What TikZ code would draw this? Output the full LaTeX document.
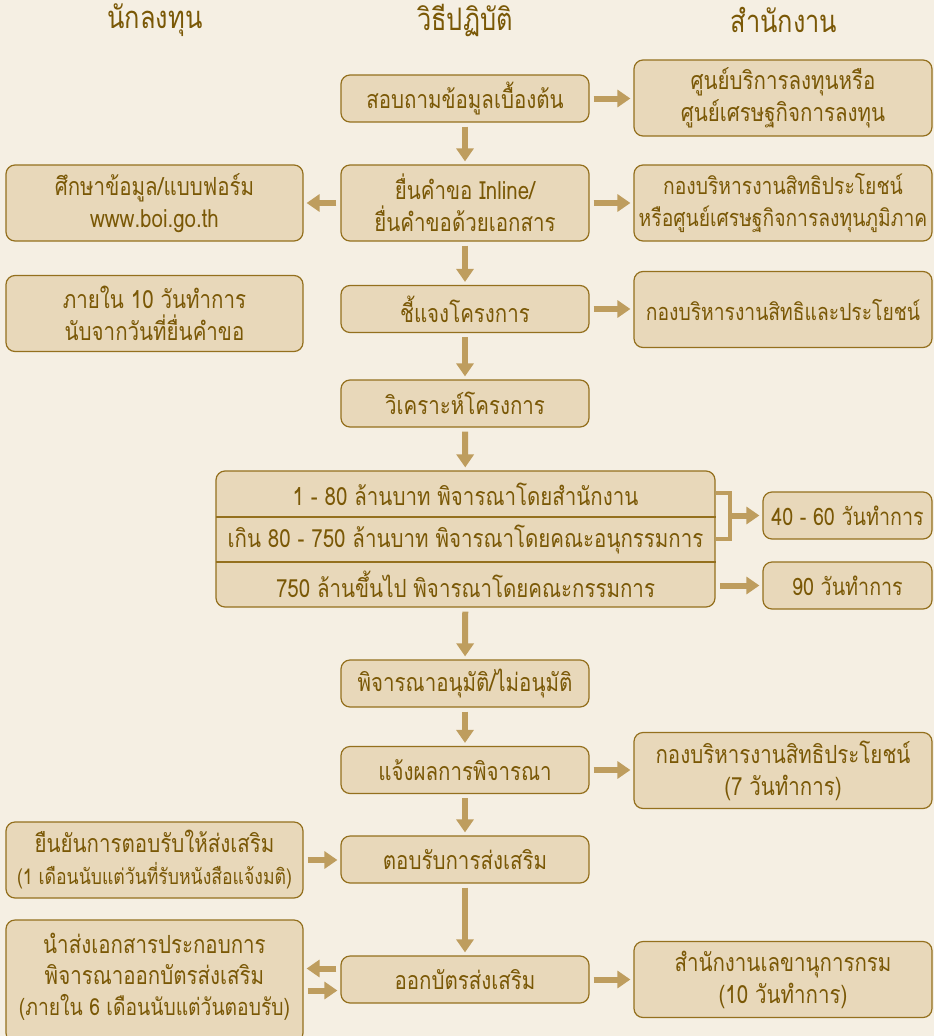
\documentclass[tikz,border=0pt]{standalone}
\usepackage{fontspec}
\usetikzlibrary{arrows.meta,calc}
\newfontfamily\thai[Script=Thai,FakeStretch=0.82]{Loma}
\definecolor{bg}{HTML}{F5EFE3}
\definecolor{boxfill}{HTML}{E8D8BA}
\definecolor{boxline}{HTML}{94701E}
\definecolor{txt}{HTML}{7A5806}
\definecolor{arrowc}{HTML}{BE9D5E}
\begin{document}
\begin{tikzpicture}[x=1pt,y=-1pt,
  box/.style={draw=boxline, fill=boxfill, line width=1.2pt, rounded corners=9pt,
    align=center, text=txt, font=\thai\fontsize{25}{32}\selectfont, inner sep=0pt},
  cbox/.style={box, minimum width=248pt, minimum height=47pt},
  rbox/.style={box, minimum width=298pt, minimum height=76pt},
  lbox/.style={box, minimum width=297pt, minimum height=76pt},
  tbox/.style={box, minimum width=169pt, minimum height=47pt},
  head/.style={text=txt, font=\thai\fontsize{31}{36}\selectfont},
  rowtext/.style={text=txt, font=\thai\fontsize{25}{30}\selectfont},
  arr/.style={draw=arrowc, line width=6pt, -{Triangle[width=17pt,length=13pt]}, shorten >=3pt, shorten <=4pt},
  bracket/.style={draw=arrowc, line width=4pt},
  divider/.style={draw=boxline, line width=1.2pt}]
\fill[bg] (0,0) rectangle (934,1036);
\useasboundingbox (0,0) rectangle (934,1036);
\clip (0,0) rectangle (934,1036);

% headers
\node[head] (h1) at (155,20) {นักลงทุน};
\node[head] (h2) at (465,20) {วิธีปฏิบัติ};
\node[head] (h3) at (784,20) {สำนักงาน};

% centre column
\node[cbox] (c1) at (465,98.5) {สอบถามข้อมูลเบื้องต้น};
\node[cbox, minimum height=76pt] (c2) at (465,203) {ยื่นคำขอ Inline/\\ยื่นคำขอด้วยเอกสาร};
\node[cbox] (c3) at (465,309) {ชี้แจงโครงการ};
\node[cbox] (c4) at (465,403.5) {วิเคราะห์โครงการ};
\node[box, minimum width=499pt, minimum height=136pt] (big) at (465.5,539) {};
\node[cbox] (c5) at (465,683.5) {พิจารณาอนุมัติ/ไม่อนุมัติ};
\node[cbox] (c6) at (465,770) {แจ้งผลการพิจารณา};
\node[cbox] (c7) at (465,859.5) {ตอบรับการส่งเสริม};
\node[cbox] (c8) at (465,979.5) {ออกบัตรส่งเสริม};

% rows of the big box
\coordinate (d1) at (216,517);
\coordinate (d2) at (216,562);
\draw[divider] (d1) -- (d1 -| big.east);
\draw[divider] (d2) -- (d2 -| big.east);
\node[rowtext] (row1) at (465.5,494) {1 - 80 ล้านบาท พิจารณาโดยสำนักงาน};
\node[rowtext] (row2) at (465.5,539) {เกิน 80 - 750 ล้านบาท พิจารณาโดยคณะอนุกรรมการ};
\node[rowtext] (row3) at (465.5,584) {750 ล้านขึ้นไป พิจารณาโดยคณะกรรมการ};

% right column
\node[rbox] (r1) at (783,98) {ศูนย์บริการลงทุนหรือ\\ศูนย์เศรษฐกิจการลงทุน};
\node[rbox] (r2) at (783,203) {\fontsize{23.5}{32}\selectfont กองบริหารงานสิทธิประโยชน์\\\fontsize{23.5}{32}\selectfont หรือศูนย์เศรษฐกิจการลงทุนภูมิภาค};
\node[rbox] (r3) at (783,309.5) {\fontsize{23.5}{32}\selectfont กองบริหารงานสิทธิและประโยชน์};
\node[tbox] (r4) at (847.5,515.5) {\fontsize{24}{32}\selectfont 40 - 60 วันทำการ};
\node[tbox] (r5) at (847.5,585.5) {\fontsize{24}{32}\selectfont 90 วันทำการ};
\node[rbox] (r6) at (783,770.5) {กองบริหารงานสิทธิประโยชน์\\(7 วันทำการ)};
\node[rbox] (r7) at (783,979.5) {สำนักงานเลขานุการกรม\\(10 วันทำการ)};

% left column
\node[lbox] (l1) at (154.5,203) {ศึกษาข้อมูล/แบบฟอร์ม\\www.boi.go.th};
\node[lbox] (l2) at (154.5,313.5) {ภายใน 10 วันทำการ\\นับจากวันที่ยื่นคำขอ};
\node[lbox] (l3) at (154.5,860) {ยืนยันการตอบรับให้ส่งเสริม\\\fontsize{21.5}{32}\selectfont(1 เดือนนับแต่วันที่รับหนังสือแจ้งมติ)};
\node[lbox, minimum height=122pt] (l4) at (154.5,981) {};
\node[text=txt, align=center, font=\thai\fontsize{25}{31}\selectfont] (l4t) at (154.5,977) {นำส่งเอกสารประกอบการ\\พิจารณาออกบัตรส่งเสริม\\\fontsize{23.5}{31}\selectfont(ภายใน 6 เดือนนับแต่วันตอบรับ)};

% vertical arrows
\draw[arr] (c1) -- (c2);
\draw[arr] (c2) -- (c3);
\draw[arr] (c3) -- (c4);
\draw[arr] (c4) -- (big);
\draw[arr] (big) -- (c5);
\draw[arr] (c5) -- (c6);
\draw[arr] (c6) -- (c7);
\draw[arr] (c7) -- (c8);

% horizontal arrows
\draw[arr] (c1.east) -- (c1.east -| r1.west);
\draw[arr] (c2.east) -- (c2.east -| r2.west);
\draw[arr] (c2.west) -- (c2.west -| l1.east);
\draw[arr] (c3.east) -- (c3.east -| r3.west);
\draw[arr] (c6.east) -- (c6.east -| r6.west);
\draw[arr] (l3.east) -- (l3.east -| c7.west);
\draw[arr] (c8.east) -- (c8.east -| r7.west);
\draw[arr] ([yshift=11pt]c8.west) -- ([yshift=11pt]c8.west -| l4.east);
\draw[arr] ([yshift=-11pt]l4.east |- c8.west) -- ([yshift=-11pt]c8.west);

% bracket and arrows from the big box
\coordinate (b1) at (716,493);
\coordinate (b2) at (716,539);
\coordinate (bm) at (730,515.5);
\draw[bracket] (b1) -- (730,493) -- (730,539) -- (b2);
\draw[arr, shorten <=0pt] (bm) -- (bm -| r4.west);
\coordinate (b3) at (716,585.5);
\draw[arr] (b3) -- (b3 -| r5.west);
\end{tikzpicture}
\end{document}
